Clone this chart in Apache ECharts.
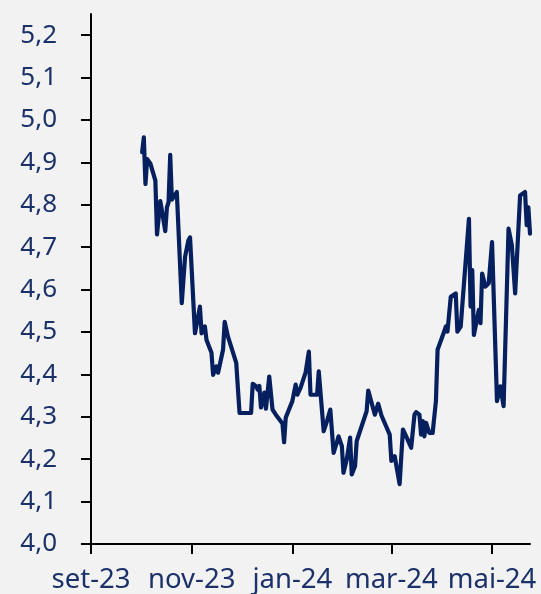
<!DOCTYPE html>
<html>
<head>
<meta charset="utf-8">
<script src="https://cdn.jsdelivr.net/npm/echarts@6/dist/echarts.min.js"></script>
<style>
html,body{margin:0;padding:0;background:#f2f2f2;}
#c{width:541px;height:594px;}
</style>
</head>
<body>
<div id="c"></div>
<script>
var dates = [
'2023-10-02','2023-10-03','2023-10-04','2023-10-05','2023-10-07','2023-10-10','2023-10-11','2023-10-13',
'2023-10-16','2023-10-17','2023-10-18','2023-10-19','2023-10-20','2023-10-21','2023-10-23','2023-10-26',
'2023-10-28','2023-10-30','2023-10-31','2023-11-03','2023-11-06','2023-11-07','2023-11-09','2023-11-10',
'2023-11-13','2023-11-14','2023-11-16','2023-11-17','2023-11-20','2023-11-21','2023-11-23','2023-11-24',
'2023-11-28','2023-11-30','2023-12-07','2023-12-08','2023-12-10','2023-12-11','2023-12-12','2023-12-13',
'2023-12-15','2023-12-16','2023-12-18','2023-12-20','2023-12-22','2023-12-26','2023-12-27','2023-12-28',
'2024-01-01','2024-01-03','2024-01-04','2024-01-06','2024-01-09','2024-01-11','2024-01-12','2024-01-16',
'2024-01-17','2024-01-20','2024-01-22','2024-01-24','2024-01-26','2024-01-28','2024-01-29','2024-01-31',
'2024-02-01','2024-02-03','2024-02-05','2024-02-06','2024-02-08','2024-02-09','2024-02-15','2024-02-16',
'2024-02-20','2024-02-21','2024-02-22','2024-02-24','2024-02-29','2024-03-01','2024-03-03','2024-03-04',
'2024-03-06','2024-03-08','2024-03-10','2024-03-13','2024-03-15','2024-03-16','2024-03-18','2024-03-19',
'2024-03-20','2024-03-21','2024-03-22','2024-03-24','2024-03-26','2024-03-28','2024-03-29','2024-04-02',
'2024-04-03','2024-04-04','2024-04-06','2024-04-09','2024-04-10','2024-04-12','2024-04-13','2024-04-17',
'2024-04-18','2024-04-19','2024-04-20','2024-04-22','2024-04-23','2024-04-24','2024-04-25','2024-04-27',
'2024-04-29','2024-05-01','2024-05-04','2024-05-06','2024-05-08','2024-05-11','2024-05-13','2024-05-15',
'2024-05-18','2024-05-21','2024-05-22','2024-05-23','2024-05-24'
];
var values = [
4.924,4.959,4.849,4.908,4.897,4.857,4.730,4.809,
4.738,4.794,4.806,4.918,4.812,4.818,4.830,4.568,
4.677,4.716,4.723,4.497,4.560,4.497,4.513,4.481,
4.451,4.399,4.419,4.404,4.458,4.524,4.489,4.486,
4.427,4.309,4.309,4.378,4.372,4.364,4.373,4.322,
4.357,4.319,4.395,4.317,4.305,4.284,4.240,4.298,
4.337,4.376,4.352,4.369,4.404,4.454,4.352,4.352,
4.407,4.266,4.290,4.317,4.215,4.240,4.254,4.231,
4.168,4.200,4.251,4.164,4.184,4.243,4.313,4.362,
4.305,4.305,4.331,4.303,4.258,4.196,4.207,4.207,
4.141,4.270,4.254,4.227,4.305,4.311,4.305,4.258,
4.290,4.254,4.286,4.262,4.262,4.337,4.458,4.501,
4.513,4.501,4.583,4.591,4.501,4.513,4.509,4.767,
4.560,4.646,4.493,4.532,4.552,4.521,4.638,4.607,
4.615,4.712,4.337,4.372,4.325,4.744,4.705,4.591,
4.822,4.830,4.752,4.794,4.732
];
var yTicks = [4.0,4.1,4.2,4.3,4.4,4.5,4.6,4.7,4.8,4.9,5.0,5.1,5.2];
var xTickDates = ['2023-09-01','2023-11-01','2024-01-01','2024-03-01','2024-05-01'];
var xTickLabels = ['set-23','nov-23','jan-24','mar-24','mai-24'];
var axisStart = '2023-09-01', axisEnd = '2024-05-24';

// daily category axis
function fmt(d){
  var m = d.getUTCMonth()+1, day = d.getUTCDate();
  return d.getUTCFullYear()+'-'+(m<10?'0':'')+m+'-'+(day<10?'0':'')+day;
}
var categories = [];
for (var t = Date.parse(axisStart+'T00:00:00Z'); t <= Date.parse(axisEnd+'T00:00:00Z'); t += 86400000) {
  categories.push(fmt(new Date(t)));
}
var seriesData = dates.map(function(d,i){ return [d, values[i]]; });

var navy = '#06205f';
var labelColor = '#1b3169';
var font = 'Noto Sans';
var isTick = function(idx, val){ return xTickDates.indexOf(val) >= 0; };

var chart = echarts.init(document.getElementById('c'), null, {renderer:'canvas'});
chart.setOption({
  backgroundColor: '#f2f2f2',
  animation: false,
  grid: {left: 91, right: 11, top: 14, bottom: 49, containLabel: false},
  xAxis: {
    type: 'category',
    data: categories,
    boundaryGap: false,
    axisLine: {show: true, lineStyle: {color: '#000', width: 2}},
    axisTick: {show: true, interval: isTick, length: 10, lineStyle: {color: '#000', width: 2}},
    axisLabel: {
      interval: isTick,
      margin: 22,
      color: labelColor,
      fontFamily: font,
      fontSize: 27.5,
      formatter: function(v){ var i = xTickDates.indexOf(v); return i >= 0 ? xTickLabels[i] : ''; }
    },
    splitLine: {show: false}
  },
  yAxis: {
    type: 'value',
    min: 4.0,
    max: 5.25,
    axisLine: {show: true, lineStyle: {color: '#000', width: 2}},
    axisTick: {show: true, length: 10, customValues: yTicks, lineStyle: {color: '#000', width: 2}},
    axisLabel: {
      customValues: yTicks,
      margin: 34,
      color: labelColor,
      fontFamily: font,
      fontSize: 26,
      formatter: function(v){ return v.toFixed(1).replace('.', ','); }
    },
    splitLine: {show: false}
  },
  series: [{
    type: 'line',
    data: seriesData,
    symbol: 'none',
    lineStyle: {color: navy, width: 4.2, join: 'round', cap: 'round'}
  }]
});
</script>
</body>
</html>
